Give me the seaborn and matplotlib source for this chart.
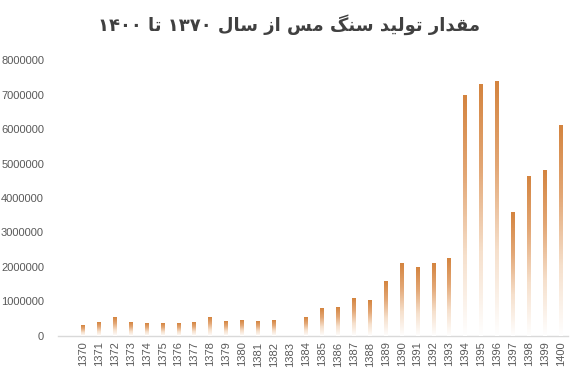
import numpy as np
import pandas as pd
import matplotlib
matplotlib.use("Agg")
import matplotlib.pyplot as plt
import seaborn as sns
from matplotlib.colors import LinearSegmentedColormap

# داده‌ها (خوانده شده از تصویر)
years = [str(y) for y in range(1370, 1401)]
production = [290000, 380000, 550000, 380000, 350000, 350000, 350000, 380000,
              550000, 410000, 440000, 410000, 460000, 0, 550000, 790000,
              840000, 1100000, 1020000, 1570000, 2090000, 2000000, 2090000,
              2260000, 6970000, 7300000, 7390000, 3590000, 4610000, 4790000,
              6090000]
y_ticks = list(range(0, 8000001, 1000000))
title = "مقدار تولید سنگ مس از سال ۱۳۷۰ تا ۱۴۰۰"

# شکل‌دهی ساده حروف فارسی برای matplotlib (بدون کتابخانه‌ی reshaper)
FORMS = {
    # iso, fin, ini, med
    "ا": ("\uFE8D", "\uFE8E", None, None),
    "د": ("\uFEA9", "\uFEAA", None, None),
    "ر": ("\uFEAD", "\uFEAE", None, None),
    "ز": ("\uFEAF", "\uFEB0", None, None),
    "و": ("\uFEED", "\uFEEE", None, None),
    "م": ("\uFEE1", "\uFEE2", "\uFEE3", "\uFEE4"),
    "ق": ("\uFED5", "\uFED6", "\uFED7", "\uFED8"),
    "ت": ("\uFE95", "\uFE96", "\uFE97", "\uFE98"),
    "ل": ("\uFEDD", "\uFEDE", "\uFEDF", "\uFEE0"),
    "ی": ("\uFBFC", "\uFBFD", "\uFBFE", "\uFBFF"),
    "س": ("\uFEB1", "\uFEB2", "\uFEB3", "\uFEB4"),
    "ن": ("\uFEE5", "\uFEE6", "\uFEE7", "\uFEE8"),
    "گ": ("\uFB92", "\uFB93", "\uFB94", "\uFB95"),
}


def dual(ch):
    return ch in FORMS and FORMS[ch][2] is not None


def shape_word(w):
    if not any(c in FORMS for c in w):
        return w
    out = []
    for i, c in enumerate(w):
        if c not in FORMS:
            out.append(c)
            continue
        prev = i > 0 and dual(w[i - 1])
        nxt = i < len(w) - 1 and dual(c) and w[i + 1] in FORMS
        iso, fin, ini, med = FORMS[c]
        if prev and nxt:
            out.append(med)
        elif prev:
            out.append(fin)
        elif nxt:
            out.append(ini)
        else:
            out.append(iso)
    return "".join(out[::-1])


def rtl(text):
    return " ".join(shape_word(w) for w in text.split(" ")[::-1])


df = pd.DataFrame({"year": years, "value": production})

sns.set_theme(style="white")
plt.rcParams["font.family"] = ["DejaVu Sans"]

fig = plt.figure(figsize=(5.79, 3.76), dpi=100)
ax = fig.add_axes([0.100, 0.1064, 0.881, 0.734])

sns.barplot(data=df, x="year", y="value", color="#D4843F", width=0.25,
            linewidth=0, ax=ax)

# گرادیان نارنجی به سفید روی هر ستون
cmap = LinearSegmentedColormap.from_list(
    "grad", ["#FFFFFF", "#F6E0CC", "#E3A775", "#D4843F"])
grad = np.linspace(0, 1, 256).reshape(-1, 1)
for bar in ax.patches:
    h = bar.get_height()
    if h > 0:
        x0 = bar.get_x()
        w = bar.get_width()
        ax.imshow(grad, cmap=cmap, aspect="auto", origin="lower",
                  interpolation="nearest", extent=[x0, x0 + w, 0, h], zorder=3)
    bar.set_visible(False)

ax.set_xlim(-1.57, 30.44)
ax.set_ylim(0, 8000000)
ax.set_yticks(y_ticks)
ax.set_yticklabels([str(v) for v in y_ticks])
ax.set_xlabel("")
ax.set_ylabel("")
ax.tick_params(axis="x", rotation=90, labelsize=8, colors="#595959", length=0, pad=4)
ax.tick_params(axis="y", labelsize=8, colors="#595959", length=0, pad=10)
for lab in ax.get_xticklabels() + ax.get_yticklabels():
    lab.set_family("Liberation Sans")
sns.despine(ax=ax, left=True)
ax.spines["bottom"].set_color("#D9D9D9")
ax.spines["bottom"].set_linewidth(1)

fig.text(0.5, 0.935, rtl(title), ha="center", va="center",
         fontsize=13, fontweight="bold", color="#404040")

fig.savefig("out.png", dpi=100)
